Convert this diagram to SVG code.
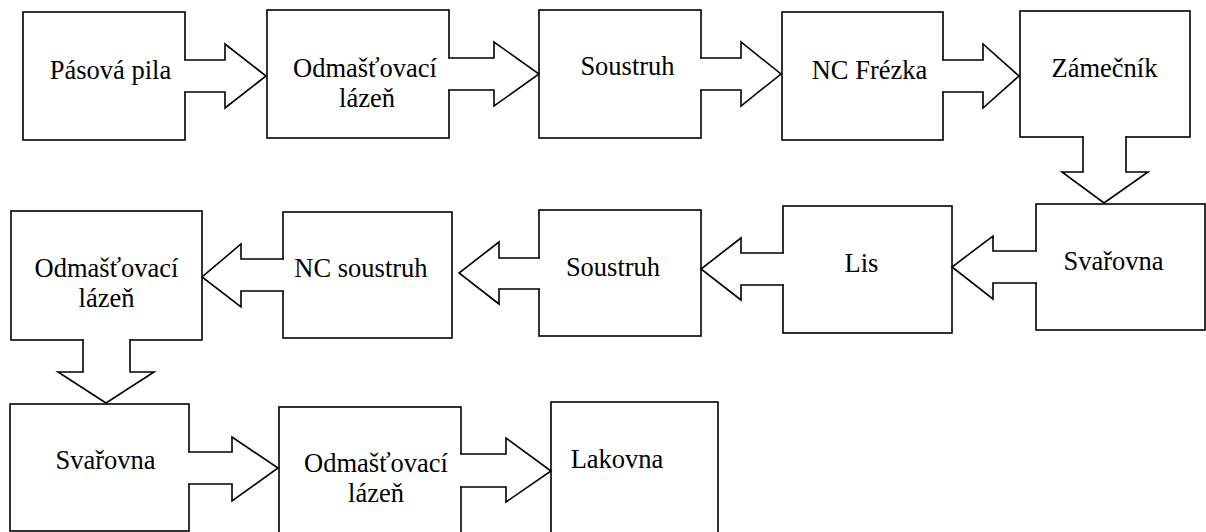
<svg xmlns="http://www.w3.org/2000/svg" width="1206" height="532" viewBox="0 0 1206 532">
  <style>
    .box { fill: #fff; stroke: #000; stroke-width: 1.6; }
    .arrow { fill: #fff; stroke: #000; stroke-width: 1.6; stroke-linejoin: miter; }
    .label { font-family: 'Liberation Serif', 'Times New Roman', serif; font-size: 26.5px; fill: #000; text-anchor: middle; }
  </style>
  <rect width="1206" height="532" fill="#fff"/>

  <!-- Row 1 -->
  <g id="n1"><rect class="box" x="23" y="12" width="162" height="128"/><text class="label" x="110.5" y="79">Pásová pila</text></g>
  <g id="n2"><rect class="box" x="267" y="10" width="182" height="128"/><text class="label" x="365" y="77">Odmašťovací</text><text class="label" x="367" y="107">lázeň</text></g>
  <g id="n3"><rect class="box" x="539" y="10" width="162" height="128"/><text class="label" x="627.5" y="75">Soustruh</text></g>
  <g id="n4"><rect class="box" x="782" y="12" width="161" height="128"/><text class="label" x="869.5" y="79">NC Frézka</text></g>
  <g id="n5"><rect class="box" x="1020" y="11" width="170" height="126"/><text class="label" x="1104.5" y="77">Zámečník</text></g>

  <!-- Row 2 -->
  <g id="n6"><rect class="box" x="1036" y="204" width="169" height="126"/><text class="label" x="1113.5" y="270">Svařovna</text></g>
  <g id="n7"><rect class="box" x="783" y="206" width="169" height="127"/><text class="label" x="861.5" y="272">Lis</text></g>
  <g id="n8"><rect class="box" x="539" y="210" width="162" height="126"/><text class="label" x="613" y="276">Soustruh</text></g>
  <g id="n9"><rect class="box" x="283" y="212" width="169" height="126"/><text class="label" x="361" y="277">NC soustruh</text></g>
  <g id="n10"><rect class="box" x="11" y="211" width="191" height="129"/><text class="label" x="106.5" y="277">Odmašťovací</text><text class="label" x="106.5" y="307">lázeň</text></g>

  <!-- Row 3 -->
  <g id="n11"><rect class="box" x="10" y="404" width="179" height="127"/><text class="label" x="105.5" y="469">Svařovna</text></g>
  <g id="n12"><rect class="box" x="279" y="407" width="182" height="140"/><text class="label" x="376" y="472">Odmašťovací</text><text class="label" x="376" y="502">lázeň</text></g>
  <g id="n13"><rect class="box" x="551" y="402" width="167" height="140"/><text class="label" x="617" y="468">Lakovna</text></g>

  <!-- Block arrows between stations -->
  <g id="connectors">
    <path class="arrow" d="M184,60 H225 V44 L266,76 L225,108 V92 H184"/>
    <path class="arrow" d="M448,58 H494 V42 L539,74 L494,106 V90 H448"/>
    <path class="arrow" d="M700,58 H741 V42 L781,74 L741,106 V90 H700"/>
    <path class="arrow" d="M942,60 H983 V44 L1019,76 L983,108 V92 H942"/>
    <path class="arrow" d="M1083,136 V172 H1062 L1104,203 L1148,172 H1126 V136"/>
    <path class="arrow" d="M1037,251 H993 V236 L952,267 L993,299 V283 H1037"/>
    <path class="arrow" d="M784,253 H741 V238 L701,269 L741,300 V285 H784"/>
    <path class="arrow" d="M540,258 H499 V242 L459,273 L499,304 V289 H540"/>
    <path class="arrow" d="M284,259 H241 V244 L202,277 L241,307 V291 H284"/>
    <path class="arrow" d="M83,339 V372 H58 L106,403 L154,372 H130 V339"/>
    <path class="arrow" d="M188,452 H232 V437 L278,468 L232,501 V484 H188"/>
    <path class="arrow" d="M460,454 H506 V438 L551,471 L506,502 V487 H460"/>
  </g>
</svg>
